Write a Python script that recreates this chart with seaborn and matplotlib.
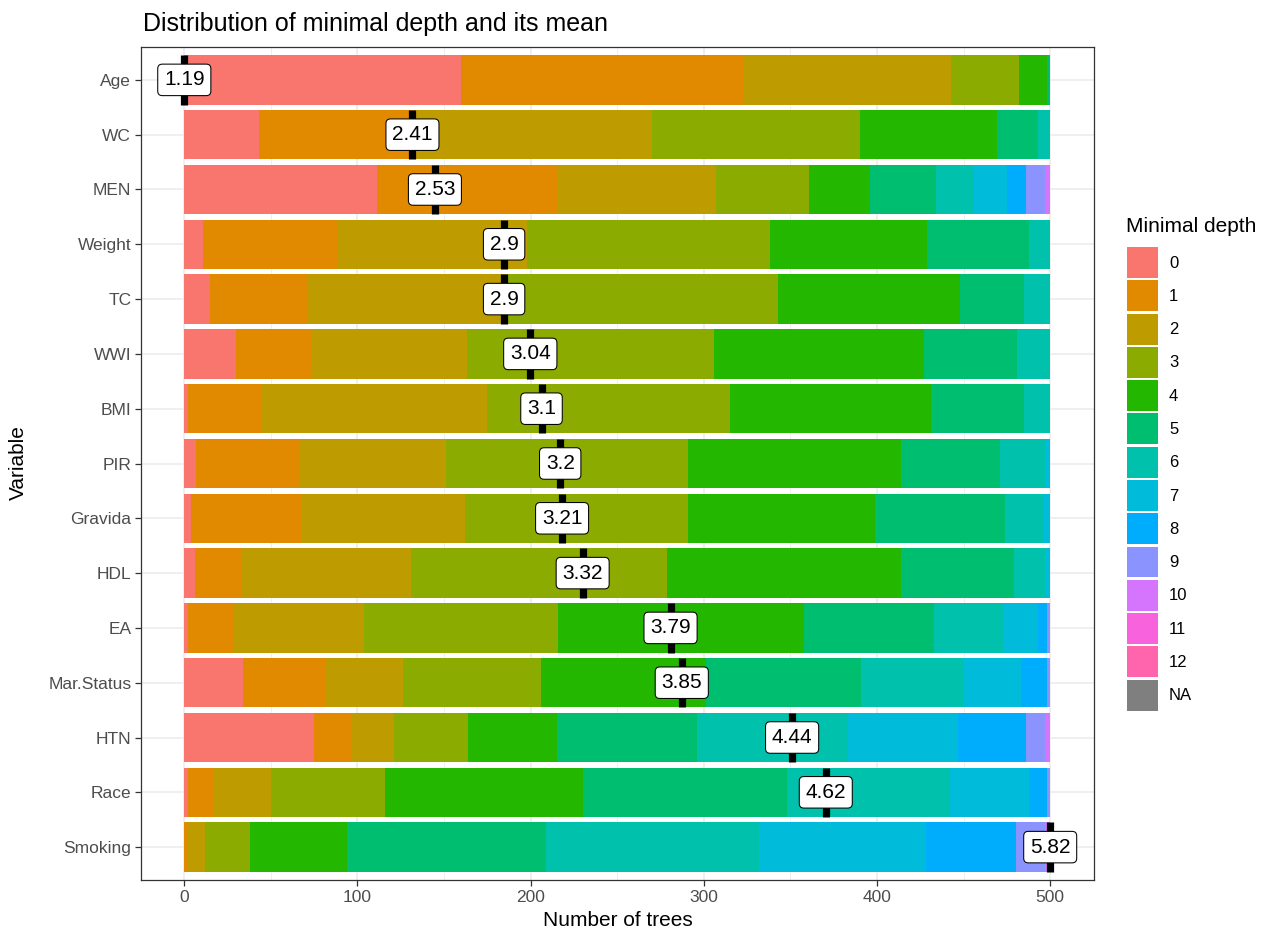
import numpy as np
import pandas as pd
import matplotlib
matplotlib.use("Agg")
import matplotlib.pyplot as plt
import seaborn as sns
from matplotlib.patches import Patch

plt.rcParams['font.family'] = ['Liberation Sans', 'DejaVu Sans']

# variables, top to bottom, and their mean minimal depth
variables = ["Age", "WC", "MEN", "Weight", "TC", "WWI", "BMI", "PIR", "Gravida",
             "HDL", "EA", "Mar.Status", "HTN", "Race", "Smoking"]
mean_depth = [1.19, 2.41, 2.53, 2.9, 2.9, 3.04, 3.1, 3.2, 3.21, 3.32, 3.79,
              3.85, 4.44, 4.62, 5.82]

# number of trees with minimal depth 0..10
trees_age = [160, 163, 120, 39, 16, 2, 0, 0, 0, 0, 0]
trees_wc = [43, 90, 137, 120, 79, 24, 7, 0, 0, 0, 0]
trees_men = [111, 104, 92, 54, 35, 38, 22, 19, 11, 11, 3]
trees_weight = [11, 77, 110, 140, 91, 59, 12, 0, 0, 0, 0]
trees_tc = [15, 56, 116, 156, 105, 37, 15, 0, 0, 0, 0]
trees_wwi = [30, 44, 89, 143, 121, 54, 19, 0, 0, 0, 0]
trees_bmi = [2, 43, 130, 140, 116, 54, 15, 0, 0, 0, 0]
trees_pir = [7, 59, 85, 140, 123, 57, 26, 3, 0, 0, 0]
trees_gravida = [4, 64, 94, 129, 108, 75, 22, 4, 0, 0, 0]
trees_hdl = [6, 27, 98, 148, 135, 65, 18, 3, 0, 0, 0]
trees_ea = [2, 26, 76, 112, 142, 75, 40, 20, 5, 2, 0]
trees_marstatus = [34, 48, 44, 80, 95, 90, 59, 33, 15, 2, 0]
trees_htn = [75, 22, 24, 43, 51, 81, 87, 64, 39, 11, 3]
trees_race = [2, 15, 33, 66, 114, 118, 94, 46, 10, 2, 0]
trees_smoking = [0, 2, 10, 26, 56, 115, 123, 96, 52, 17, 3]

depth_levels = ["0", "1", "2", "3", "4", "5", "6", "7", "8", "9", "10", "11", "12", "NA"]
depth_colors = ["#F8766D", "#E18A00", "#BE9C00", "#8CAB00", "#24B700", "#00BE70",
                "#00C1AB", "#00BBDA", "#00ACFC", "#8B93FF", "#D575FE", "#F962DD",
                "#FF65AC", "#7F7F7F"]
palette = dict(zip(depth_levels, depth_colors))

counts = pd.DataFrame([trees_age, trees_wc, trees_men, trees_weight, trees_tc, trees_wwi,
                       trees_bmi, trees_pir, trees_gravida, trees_hdl, trees_ea,
                       trees_marstatus, trees_htn, trees_race, trees_smoking],
                      index=variables, columns=depth_levels[:11])
cum = counts.cumsum(axis=1)

fig, ax = plt.subplots(figsize=(12.66, 9.32), dpi=100)
fig.subplots_adjust(left=141/1266, right=1093.5/1266, top=1-47/932, bottom=1-880/932)

# stacked bars: draw cumulative totals from deepest level back to depth 0
for d in reversed(counts.columns):
    sub = pd.DataFrame({"Variable": variables, "cum": cum[d].values})
    sns.barplot(data=sub, x="cum", y="Variable", order=variables, color=palette[d],
                saturation=1, width=0.9, linewidth=0, errorbar=None, ax=ax)

# mean markers, rescaled onto the tree axis as randomForestExplainer does
n_trees = counts.sum(axis=1).max()
md = np.array(mean_depth)
pos = (md - md.min()) / (md.max() - md.min()) * n_trees
ypos = np.arange(len(variables))
ax.vlines(pos, ypos - 0.45, ypos + 0.45, color="black", linewidth=5.2, zorder=5)
for x, y, m in zip(pos, ypos, mean_depth):
    ax.text(x, y, f"{m:g}", ha="center", va="center", fontsize=15, zorder=6,
            bbox=dict(boxstyle="round,pad=0.3,rounding_size=0.22", fc="white",
                      ec="black", lw=0.75))

ax.set_xlim(-25, 525)
ax.set_ylim(len(variables) - 1 + 0.6, -0.6)
ax.set_xticks(range(0, 501, 100))
ax.set_xticks(range(50, 500, 100), minor=True)
ax.grid(which="major", color="#EBEBEB", linewidth=1.1)
ax.grid(which="minor", axis="x", color="#EBEBEB", linewidth=0.55)
ax.set_axisbelow(True)
ax.tick_params(which="major", length=4, width=0.9, pad=3, color="#333333",
               labelcolor="#4D4D4D", labelsize=12.5)
ax.tick_params(which="minor", length=0)
for s in ax.spines.values():
    s.set_color("#333333")
    s.set_linewidth(0.9)
ax.set_xlabel("")
ax.set_ylabel("")

fig.text(618/1266, 1-920/932, "Number of trees", ha="center", va="center", fontsize=15)
fig.text(18/1266, 1-463/932, "Variable", ha="center", va="center", fontsize=15, rotation=90)
fig.text(143/1266, 1-24/932, "Distribution of minimal depth and its mean",
         ha="left", va="center", fontsize=18)

# legend: title as separate text, keys drawn by the legend
fig.text(1126/1266, 1-226/932, "Minimal depth", ha="left", va="center", fontsize=15)
handles = [Patch(facecolor=palette[d], edgecolor="none", label=d) for d in depth_levels]
fig.legend(handles=handles, loc="upper left", bbox_to_anchor=(1127/1266, 1-247/932),
           frameon=False, fontsize=12, handlelength=1.86, handleheight=2.48,
           labelspacing=0.14, handletextpad=0.66, borderpad=0, borderaxespad=0)

fig.savefig("out.png", dpi=100)
